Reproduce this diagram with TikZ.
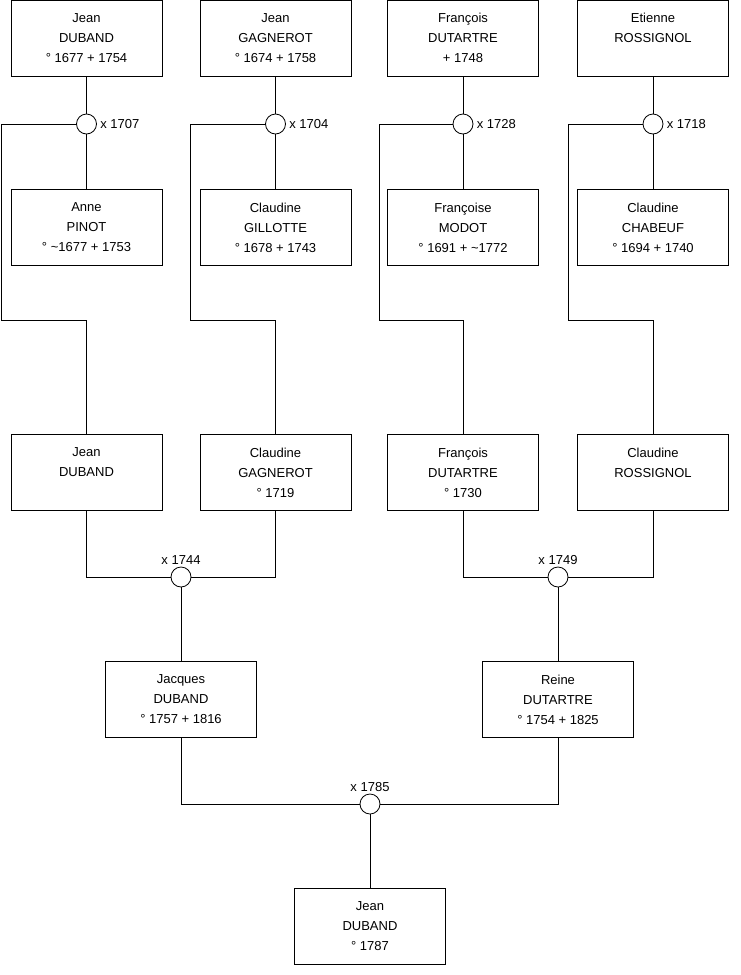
\documentclass[tikz,border=0pt]{standalone}
\usepackage{fontspec}
\setmainfont{Liberation Sans}
\begin{document}
\begin{tikzpicture}[
        x=1pt, y=-1pt,
        every node/.style={font=\fontsize{13}{20}\selectfont},
        person/.style={draw, align=center, minimum width=151pt, minimum height=76pt, inner sep=0pt},
        wed/.style={draw, circle, minimum size=20pt, inner sep=0pt},
        every label/.style={font=\fontsize{13}{15}\selectfont, inner sep=2pt},
        line width=0.8pt
    ]
    \useasboundingbox (0,0) rectangle (740,975);
    % grands-parents
    \node[person] (a1) at (86.5,38) {Jean\\DUBAND\\° 1677 + 1754};
    \node[person] (a2) at (275.5,38) {Jean\\GAGNEROT\\° 1674 + 1758};
    \node[person] (a3) at (463,38) {François\\DUTARTRE\\+ 1748};
    \node[person] (a4) at (653,38) {Etienne\\ROSSIGNOL\\~};
    \node[wed, label={[label distance=1pt]right:x 1707}] (w1) at (86.5,124) {};
    \node[wed, label={[label distance=1pt]right:x 1704}] (w2) at (275.5,124) {};
    \node[wed, label={[label distance=1pt]right:x 1728}] (w3) at (463,124) {};
    \node[wed, label={[label distance=1pt]right:x 1718}] (w4) at (653,124) {};
    \node[person] (b1) at (86.5,227.5) {Anne\\PINOT\\° \textasciitilde1677 + 1753};
    \node[person] (b2) at (275.5,227.5) {Claudine\\GILLOTTE\\° 1678 + 1743};
    \node[person] (b3) at (463,227.5) {Françoise\\MODOT\\° 1691 + \textasciitilde1772};
    \node[person] (b4) at (653,227.5) {Claudine\\CHABEUF\\° 1694 + 1740};
    \coordinate (k1) at (1,320);
    \coordinate (k2) at (190,320);
    \coordinate (k3) at (379,320);
    \coordinate (k4) at (568,320);
    % parents
    \node[person] (c1) at (86.5,472.5) {Jean\\DUBAND\\~};
    \node[person] (c2) at (275.5,472.5) {Claudine\\GAGNEROT\\° 1719};
    \node[person] (c3) at (463,472.5) {François\\DUTARTRE\\° 1730};
    \node[person] (c4) at (653,472.5) {Claudine\\ROSSIGNOL\\~};
    \node[wed, label={[label distance=0pt]above:x 1744}] (w5) at (181,577) {};
    \node[wed, label={[label distance=0pt]above:x 1749}] (w6) at (558,577) {};
    \node[person] (d1) at (181,699.5) {Jacques\\DUBAND\\° 1757 + 1816};
    \node[person] (d2) at (558,699.5) {Reine\\DUTARTRE\\° 1754 + 1825};
    \node[wed, label={[label distance=0pt]above:x 1785}] (w7) at (370,804) {};
    \node[person] (e1) at (370,926) {Jean\\DUBAND\\° 1787};
    % liens
    \foreach \i in {1,...,4} {
        \draw (a\i) -- (w\i) -- (b\i);
        \draw (w\i) -| (k\i) -| (c\i);
    }
    \draw (c1) |- (w5) -| (c2);
    \draw (c3) |- (w6) -| (c4);
    \draw (w5) -- (d1);
    \draw (w6) -- (d2);
    \draw (d1) |- (w7) -| (d2);
    \draw (w7) -- (e1);
\end{tikzpicture}
\end{document}
